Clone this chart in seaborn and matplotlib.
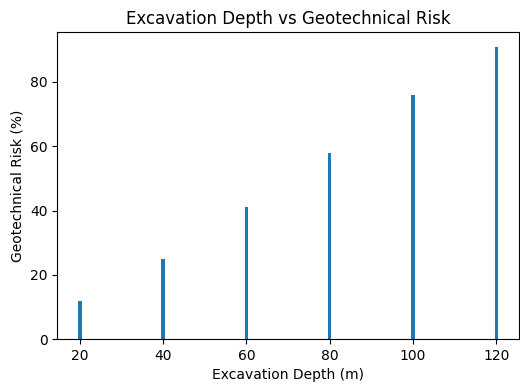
import pandas as pd
import seaborn as sns
import matplotlib.pyplot as plt

# === Data ===
depth_m = [20, 40, 60, 80, 100, 120]
risk_pct = [12, 25, 41, 58, 76, 91]

df = pd.DataFrame({'Excavation Depth (m)': depth_m, 'Geotechnical Risk (%)': risk_pct})

# === Plot ===
fig, ax = plt.subplots(figsize=(5.2, 3.85), dpi=100)

# width is relative to spacing of depths (20 m) -> 0.8 m wide bars
sns.barplot(
    data=df,
    x='Excavation Depth (m)',
    y='Geotechnical Risk (%)',
    native_scale=True,
    width=0.8 / 20,
    color='#1f77b4',
    saturation=1,
    ax=ax,
)

ax.set_title('Excavation Depth vs Geotechnical Risk')
ax.set_xlabel('Excavation Depth (m)')
ax.set_ylabel('Geotechnical Risk (%)')
ax.set_xticks(depth_m)

plt.subplots_adjust(left=0.110, right=0.998, top=0.917, bottom=0.119)
plt.savefig('out.png', dpi=100)
